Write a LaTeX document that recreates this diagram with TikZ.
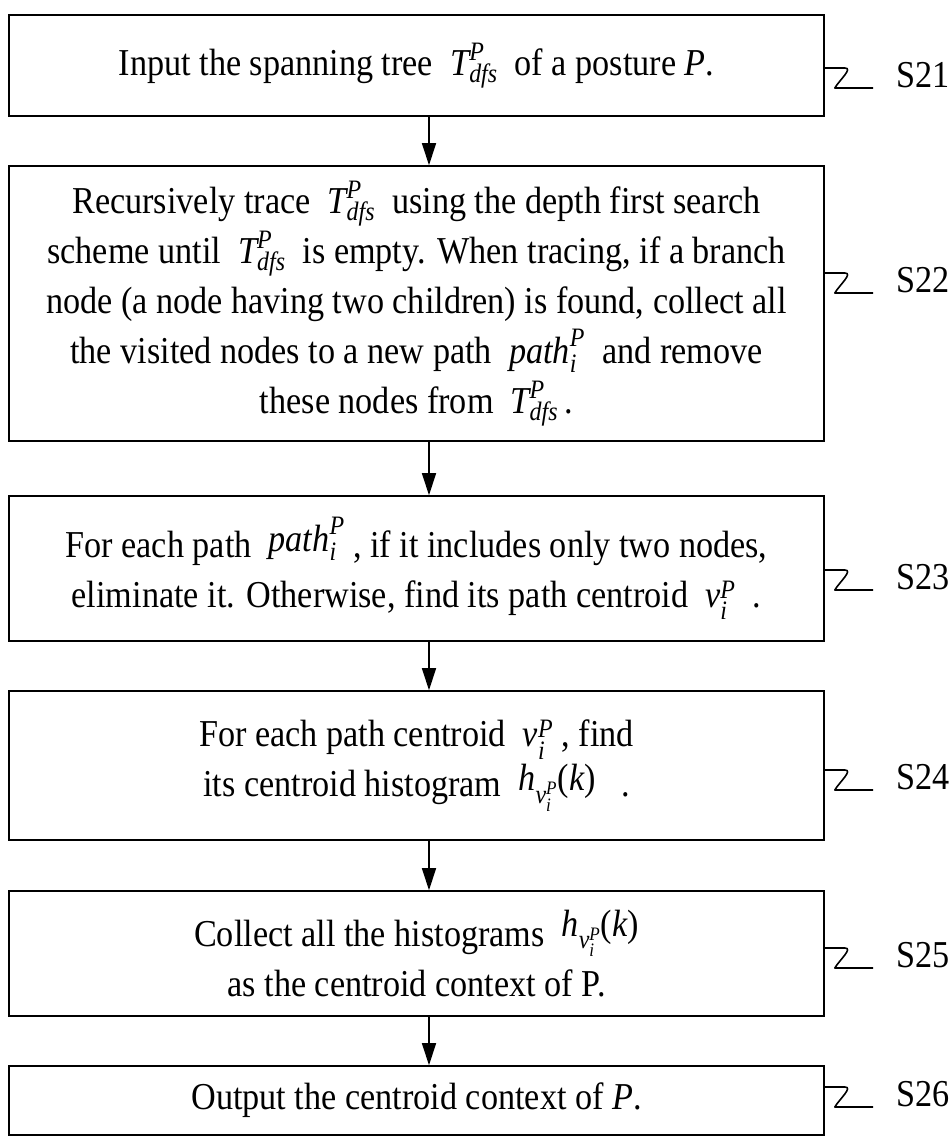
\documentclass[tikz,border=0pt]{standalone}
\usepackage{amsmath}
\usepackage{fontspec}
\setmainfont[FakeStretch=0.9]{Liberation Serif}
\usetikzlibrary{arrows.meta,calc}

\newcommand{\tdfs}{$\textit{T}^{\textit{P}}_{\textit{dfs}}$}
\newcommand{\pathi}{$\textit{path}^{\textit{P}}_{\textit{i}}$}
\newcommand{\vip}{$\textit{v}^{\textit{P}}_{\textit{i}}$}
\newcommand{\hvk}{$\textit{h}_{\textit{v}^{\textit{P}}_{\textit{i}}}\textup{(}\textit{k}\textup{)}$}

\begin{document}
\begin{tikzpicture}[x=1pt,y=1pt,font=\fontsize{38}{50}\selectfont,
  box/.style={draw,line width=1.6pt,minimum width=815pt,align=center,inner sep=0pt},
  flow/.style={line width=1.6pt,-{Triangle[length=22pt,width=14pt]}},
  squig/.style={line width=1.6pt,line join=round}]
\useasboundingbox (0,0) rectangle (951,1136);

\node[box,minimum height=101pt] (s21) at (416.5,1070.5) {Input the spanning tree \ \tdfs\ \ of a posture \textit{P}.};
\node[box,minimum height=275pt] (s22) at (416.5,832.5) {Recursively trace \ \tdfs\ \ using the depth first search\\
  scheme until \ \tdfs\ \ is empty. When tracing, if a branch\\
  node (a node having two children) is found, collect all\\
  the visited nodes to a new path \ \pathi\ \ and remove\\
  these nodes from \ \tdfs\,.};
\node[box,minimum height=145pt] (s23) at (416.5,567.5) {For each path \ \raisebox{6pt}{\pathi}\ , if it includes only two nodes,\\
  eliminate it. Otherwise, find its path centroid \ \vip\ \ .};
\node[box,minimum height=149pt] (s24) at (416.5,370.5) {For each path centroid \ \vip\ , find\\
  its centroid histogram \ \raisebox{6pt}{\hvk}\ \ \ .};
\node[box,minimum height=125pt] (s25) at (416.5,182.5) {Collect all the histograms \ \raisebox{10pt}{\hvk}\\
  as the centroid context of P.};
\node[box,minimum height=69pt] (s26) at (416.5,35.5) {Output the centroid context of \textit{P}.};

% step labels
\node[anchor=base west] (l21) at (893,1048) {S21};
\node[anchor=base west] (l22) at (893,843) {S22};
\node[anchor=base west] (l23) at (893,546) {S23};
\node[anchor=base west] (l24) at (893,346) {S24};
\node[anchor=base west] (l25) at (893,168) {S25};
\node[anchor=base west] (l26) at (893,29) {S26};

\draw[flow] ([xshift=12.5pt]s21.south) -- ([xshift=12.5pt]s22.north);
\draw[flow] ([xshift=12.5pt]s22.south) -- ([xshift=12.5pt]s23.north);
\draw[flow] ([xshift=12.5pt]s23.south) -- ([xshift=12.5pt]s24.north);
\draw[flow] ([xshift=12.5pt]s24.south) -- ([xshift=12.5pt]s25.north);
\draw[flow] ([xshift=12.5pt]s25.south) -- ([xshift=12.5pt]s26.north);

\draw[squig] ($(s21.east|-l21.base)+(0,20)$) -- ++(20,0) to[out=0,in=60] ++(-10,-20) -- ($(l21.base west)+(-20,0)$);
\draw[squig] ($(s22.east|-l22.base)+(0,20)$) -- ++(20,0) to[out=0,in=60] ++(-10,-20) -- ($(l22.base west)+(-20,0)$);
\draw[squig] ($(s23.east|-l23.base)+(0,20)$) -- ++(20,0) to[out=0,in=60] ++(-10,-20) -- ($(l23.base west)+(-20,0)$);
\draw[squig] ($(s24.east|-l24.base)+(0,20)$) -- ++(20,0) to[out=0,in=60] ++(-10,-20) -- ($(l24.base west)+(-20,0)$);
\draw[squig] ($(s25.east|-l25.base)+(0,20)$) -- ++(20,0) to[out=0,in=60] ++(-10,-20) -- ($(l25.base west)+(-20,0)$);
\draw[squig] ($(s26.east|-l26.base)+(0,20)$) -- ++(20,0) to[out=0,in=60] ++(-10,-20) -- ($(l26.base west)+(-20,0)$);
\end{tikzpicture}
\end{document}
